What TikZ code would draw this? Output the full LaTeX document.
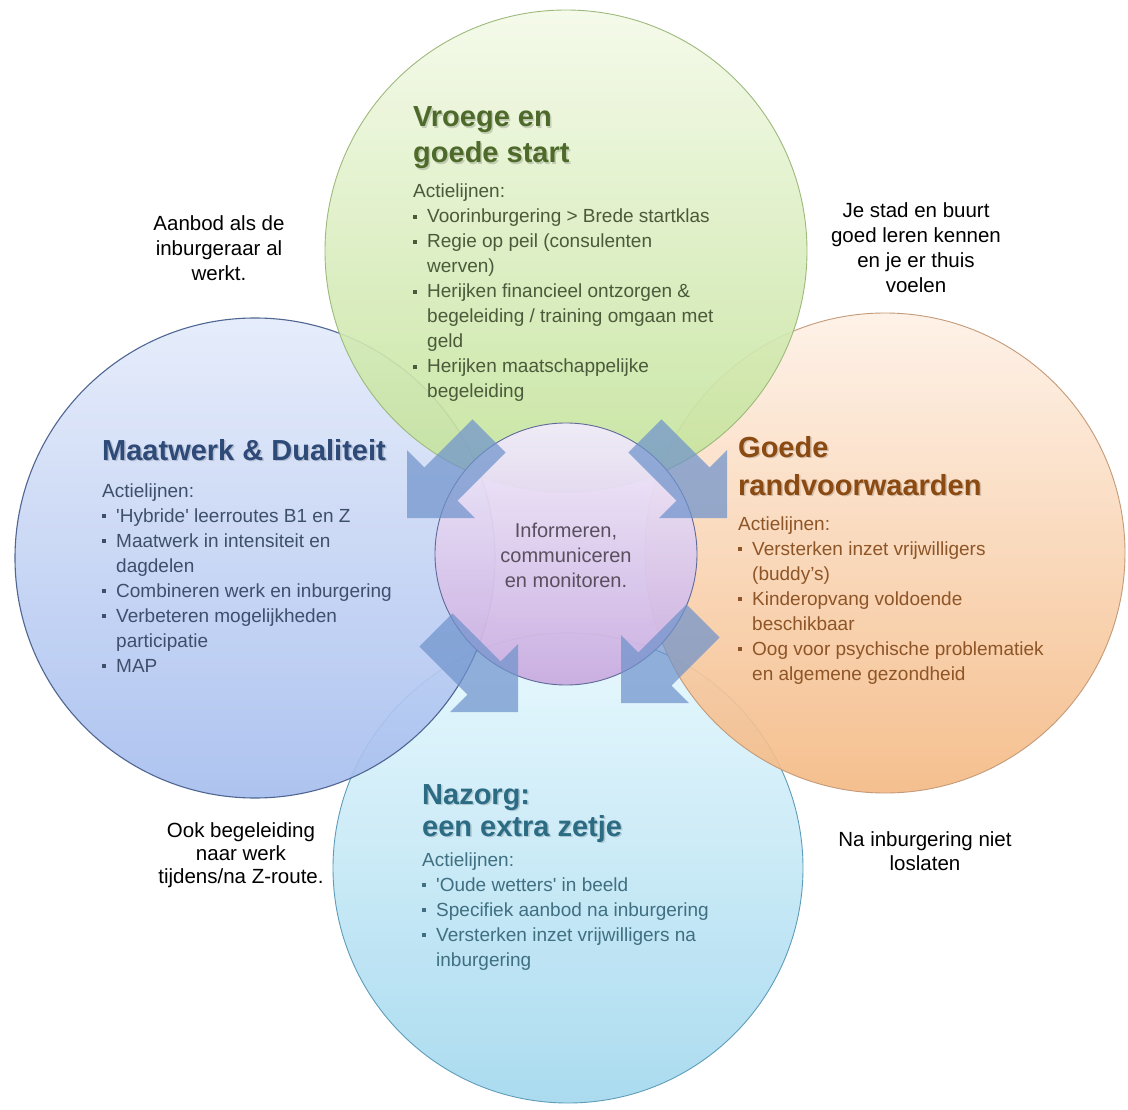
\documentclass[tikz,border=0pt]{standalone}
\usepackage{fontspec}
\setmainfont{Liberation Sans}
\definecolor{grTop}{HTML}{F4FAE8}
\definecolor{grBot}{HTML}{C2E298}
\definecolor{grLine}{HTML}{9DB97C}
\definecolor{grTitle}{HTML}{4E6A2B}
\definecolor{grText}{HTML}{4A5A3A}
\definecolor{blTop}{HTML}{E4EBFB}
\definecolor{blBot}{HTML}{A5BDEE}
\definecolor{blLine}{HTML}{4F6693}
\definecolor{blTitle}{HTML}{2E4A78}
\definecolor{blText}{HTML}{3E4F6C}
\definecolor{orTop}{HTML}{FEF1E6}
\definecolor{orBot}{HTML}{F5B983}
\definecolor{orLine}{HTML}{C49A78}
\definecolor{orTitle}{HTML}{8A4A12}
\definecolor{orText}{HTML}{8E5527}
\definecolor{cyTop}{HTML}{E6F8FE}
\definecolor{cyBot}{HTML}{A2D8EE}
\definecolor{cyLine}{HTML}{5E9DB9}
\definecolor{cyTitle}{HTML}{2B6C84}
\definecolor{cyText}{HTML}{3F6F80}
\definecolor{puTop}{HTML}{F1ECFB}
\definecolor{puBot}{HTML}{C9ACE0}
\definecolor{puLine}{HTML}{5F6A99}
\definecolor{puText}{HTML}{5A4F5E}
\definecolor{arrowc}{HTML}{6F93CC}
\newcommand\blk[2]{\vtop{\baselineskip=#1pt\lineskiplimit=-1000pt\lineskip=0pt #2}}
\newcommand\bul{\makebox[14pt][l]{\raisebox{4.4pt}{\rule{3.8pt}{3.8pt}}}}
\newcommand\indt{\hspace*{14pt}}
\newcommand\cln[1]{\hbox to 0pt{\hss #1\hss}}
\newcommand\ttlline[5]{%
  \node[ttl,text=black,text opacity=0.16] at (#2+1.5,#3+1.8) {#5};
  \node[ttl,text=#4] (#1) at (#2,#3) {#5};}
\newcommand\blockarr[2]{%
  \begin{scope}[shift={#1}, rotate=#2]
    \fill[arrowfill] (0,0) -- (-48,48) -- (-48,23.5) -- (-116,23.5) -- (-116,-23.5) -- (-48,-23.5) -- (-48,-48) -- cycle;
  \end{scope}}
\begin{document}
\begin{tikzpicture}[x=1pt,y=-1pt,
  disc/.style={circle, inner sep=0pt, outer sep=0pt, minimum size=#1, fill opacity=0.9, line width=0.9pt},
  ttl/.style={anchor=base west, inner sep=0pt, font=\fontsize{29}{35}\selectfont\bfseries},
  body/.style={anchor=base west, inner sep=0pt, font=\fontsize{19}{25}\selectfont},
  side/.style={anchor=base, inner sep=0pt, text=black, font=\fontsize{20.5}{24}\selectfont},
  arrowfill/.style={fill=arrowc, fill opacity=0.72}]
\useasboundingbox (0,0) rectangle (1128,1110);
\fill[white] (0,0) rectangle (1128,1110);

% circles
\node[disc=470pt, top color=cyTop, bottom color=cyBot, draw=cyLine] (cyan) at (568,868) {};
\node[disc=480pt, top color=blTop, bottom color=blBot, draw=blLine, line width=1.1pt] (blue) at (255,558) {};
\node[disc=480pt, top color=orTop, bottom color=orBot, draw=orLine] (orange) at (885,553) {};
\node[disc=482pt, top color=grTop, bottom color=grBot, draw=grLine] (green) at (566,251) {};
\node[disc=262pt, top color=puTop, bottom color=puBot, draw=puLine, fill opacity=0.95] (center) at (566,554) {};

% arrows
\coordinate (tipTL) at (407,518);
\coordinate (tipTR) at (727,518);
\coordinate (tipBL) at (518,712);
\coordinate (tipBR) at (621,703);
\blockarr{(tipTL)}{225}
\blockarr{(tipTR)}{-45}
\blockarr{(tipBL)}{-45}
\blockarr{(tipBR)}{225}

% green
\ttlline{g1}{413}{127}{grTitle}{Vroege en}
\ttlline{g2}{413}{163}{grTitle}{goede start}
\node[body, text=grText] (gbody) at (413,198) {\blk{25}{%
  \hbox{Actielijnen:}
  \hbox{\bul Voorinburgering > Brede startklas}
  \hbox{\bul Regie op peil (consulenten}
  \hbox{\indt werven)}
  \hbox{\bul Herijken financieel ontzorgen \&}
  \hbox{\indt begeleiding / training omgaan met}
  \hbox{\indt geld}
  \hbox{\bul Herijken maatschappelijke}
  \hbox{\indt begeleiding}}};

% blue
\ttlline{b1}{102}{460}{blTitle}{Maatwerk \& Dualiteit}
\node[body, text=blText] (bbody) at (102,497) {\blk{25}{%
  \hbox{Actielijnen:}
  \hbox{\bul \textquotesingle Hybride\textquotesingle\ leerroutes B1 en Z}
  \hbox{\bul Maatwerk in intensiteit en}
  \hbox{\indt dagdelen}
  \hbox{\bul Combineren werk en inburgering}
  \hbox{\bul Verbeteren mogelijkheden}
  \hbox{\indt participatie}
  \hbox{\bul MAP}}};

% orange
\ttlline{o1}{738}{457}{orTitle}{Goede}
\ttlline{o2}{738}{495}{orTitle}{randvoorwaarden}
\node[body, text=orText] (obody) at (738,530) {\blk{25}{%
  \hbox{Actielijnen:}
  \hbox{\bul Versterken inzet vrijwilligers}
  \hbox{\indt (buddy’s)}
  \hbox{\bul Kinderopvang voldoende}
  \hbox{\indt beschikbaar}
  \hbox{\bul Oog voor psychische problematiek}
  \hbox{\indt en algemene gezondheid}}};

% cyan
\ttlline{c1}{422}{804}{cyTitle}{Nazorg:}
\ttlline{c2}{422}{836}{cyTitle}{een extra zetje}
\node[body, text=cyText] (cbody) at (422,866) {\blk{25}{%
  \hbox{Actielijnen:}
  \hbox{\bul \textquotesingle Oude wetters\textquotesingle\ in beeld}
  \hbox{\bul Specifiek aanbod na inburgering}
  \hbox{\bul Versterken inzet vrijwilligers na}
  \hbox{\indt inburgering}}};

% center text
\node[anchor=base, inner sep=0pt, text=puText, font=\fontsize{20}{25}\selectfont] (ctext) at (566,537) {\blk{25}{%
  \cln{Informeren,}
  \cln{communiceren}
  \cln{en monitoren.}}};

% side texts
\node[side] (sTL) at (219,231) {\blk{24.7}{\cln{Aanbod als de}\cln{inburgeraar al}\cln{werkt.}}};
\node[side] (sTR) at (916,218) {\blk{24.7}{\cln{Je stad en buurt}\cln{goed leren kennen}\cln{en je er thuis}\cln{voelen}}};
\node[side] (sBL) at (241,837) {\blk{23.2}{\cln{Ook begeleiding}\cln{naar werk}\cln{tijdens/na Z-route.}}};
\node[side] (sBR) at (925,846) {\blk{24}{\cln{Na inburgering niet}\cln{loslaten}}};
\end{tikzpicture}
\end{document}
